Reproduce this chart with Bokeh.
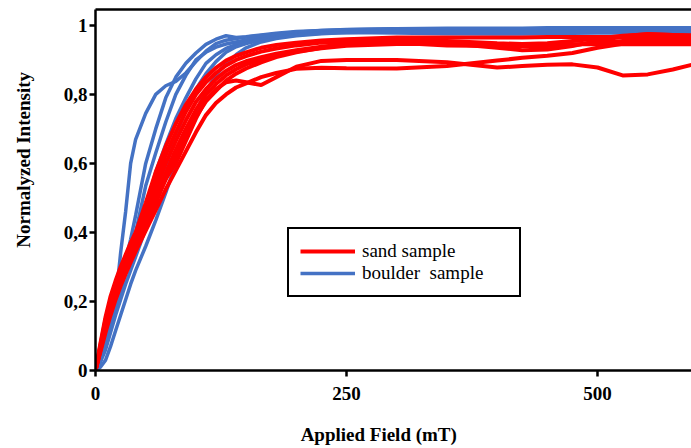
from bokeh.plotting import figure
from bokeh.models import (Range1d, LinearAxis, FixedTicker, Legend, LegendItem, Label)
from bokeh.embed import file_html
from bokeh.resources import INLINE

# ---- data ----
field = [0, 5, 10, 15, 20, 25, 30, 35, 40, 50, 60, 70, 80, 90, 100, 110, 120, 130, 140, 150,
         165, 180, 200, 225, 250, 300, 350, 400, 425, 450, 475, 500, 525, 550, 575, 600]

boulder_1 = [0, 0.03, 0.08, 0.14, 0.20, 0.34, 0.46, 0.60, 0.67, 0.745, 0.80, 0.825, 0.838, 0.862, 0.895, 0.925,
             0.947, 0.957, 0.962, 0.966, 0.971, 0.975, 0.98, 0.985, 0.988, 0.99, 0.99, 0.99, 0.99, 0.99,
             0.99, 0.99, 0.99, 0.99, 0.99, 0.99]
boulder_2 = [0, 0.03, 0.08, 0.14, 0.20, 0.26, 0.32, 0.38, 0.45, 0.60, 0.70, 0.79, 0.85, 0.89, 0.92, 0.945,
             0.96, 0.97, 0.965, 0.967, 0.972, 0.977, 0.982, 0.985, 0.987, 0.99, 0.992, 0.992, 0.992, 0.993,
             0.993, 0.993, 0.993, 0.993, 0.993, 0.993]
boulder_3 = [0, 0.03, 0.07, 0.13, 0.19, 0.245, 0.30, 0.35, 0.40, 0.535, 0.63, 0.72, 0.80, 0.855, 0.90, 0.922,
             0.937, 0.946, 0.952, 0.958, 0.966, 0.972, 0.978, 0.983, 0.986, 0.988, 0.988, 0.988, 0.987, 0.987,
             0.988, 0.988, 0.988, 0.988, 0.988, 0.988]
boulder_4 = [0, 0.03, 0.07, 0.12, 0.175, 0.23, 0.28, 0.33, 0.375, 0.47, 0.575, 0.655, 0.73, 0.79, 0.845, 0.89,
             0.915, 0.933, 0.944, 0.951, 0.96, 0.967, 0.974, 0.979, 0.982, 0.985, 0.983, 0.982, 0.982, 0.982,
             0.983, 0.984, 0.984, 0.984, 0.984, 0.984]
boulder_5 = [0, 0.025, 0.06, 0.11, 0.16, 0.205, 0.25, 0.29, 0.33, 0.41, 0.50, 0.59, 0.68, 0.755, 0.815, 0.86,
             0.895, 0.922, 0.938, 0.947, 0.958, 0.965, 0.972, 0.977, 0.979, 0.978, 0.976, 0.975, 0.975, 0.976,
             0.977, 0.978, 0.978, 0.978, 0.978, 0.978]
boulder_6 = [0, 0.01, 0.03, 0.07, 0.115, 0.16, 0.205, 0.25, 0.29, 0.36, 0.435, 0.515, 0.60, 0.68, 0.75, 0.81,
             0.855, 0.89, 0.915, 0.935, 0.952, 0.962, 0.97, 0.976, 0.979, 0.982, 0.982, 0.982, 0.983, 0.983,
             0.983, 0.983, 0.983, 0.983, 0.983, 0.983]

sand_1 = [0, 0.08, 0.155, 0.215, 0.26, 0.30, 0.335, 0.37, 0.40, 0.485, 0.575, 0.65, 0.715, 0.77, 0.815, 0.85,
          0.877, 0.898, 0.912, 0.922, 0.935, 0.943, 0.95, 0.956, 0.96, 0.965, 0.965, 0.965, 0.965, 0.966,
          0.966, 0.966, 0.966, 0.966, 0.966, 0.966]
sand_2 = [0, 0.075, 0.148, 0.205, 0.25, 0.29, 0.325, 0.355, 0.385, 0.465, 0.55, 0.625, 0.69, 0.75, 0.80, 0.835,
          0.862, 0.884, 0.90, 0.911, 0.924, 0.933, 0.942, 0.95, 0.953, 0.956, 0.948, 0.935, 0.928, 0.93,
          0.94, 0.955, 0.968, 0.975, 0.972, 0.97]
sand_3 = [0, 0.07, 0.14, 0.195, 0.24, 0.278, 0.312, 0.344, 0.375, 0.445, 0.525, 0.60, 0.665, 0.725, 0.778, 0.815,
          0.845, 0.868, 0.885, 0.896, 0.908, 0.918, 0.928, 0.938, 0.945, 0.95, 0.942, 0.94, 0.94, 0.94,
          0.943, 0.95, 0.955, 0.956, 0.956, 0.956]
sand_4 = [0, 0.066, 0.13, 0.185, 0.228, 0.265, 0.298, 0.33, 0.36, 0.42, 0.50, 0.572, 0.64, 0.70, 0.755, 0.80,
          0.83, 0.855, 0.873, 0.887, 0.90, 0.912, 0.924, 0.934, 0.941, 0.946, 0.946, 0.945, 0.945, 0.945,
          0.945, 0.945, 0.945, 0.945, 0.945, 0.945]
sand_5 = [0, 0.062, 0.125, 0.178, 0.22, 0.256, 0.29, 0.322, 0.35, 0.41, 0.485, 0.555, 0.62, 0.68, 0.735, 0.78,
          0.81, 0.84, 0.86, 0.875, 0.893, 0.908, 0.922, 0.935, 0.948, 0.958, 0.955, 0.948, 0.946, 0.948,
          0.955, 0.962, 0.97, 0.974, 0.972, 0.97]
sand_6 = [0, 0.06, 0.12, 0.175, 0.22, 0.258, 0.293, 0.328, 0.36, 0.43, 0.50, 0.555, 0.60, 0.665, 0.73, 0.785,
          0.815, 0.835, 0.84, 0.835, 0.827, 0.85, 0.88, 0.897, 0.90, 0.90, 0.893, 0.878, 0.882, 0.886,
          0.887, 0.878, 0.855, 0.858, 0.872, 0.89]
sand_7 = [0, 0.055, 0.11, 0.16, 0.205, 0.245, 0.28, 0.313, 0.345, 0.405, 0.465, 0.525, 0.58, 0.635, 0.69, 0.74,
          0.775, 0.80, 0.82, 0.832, 0.85, 0.862, 0.874, 0.877, 0.876, 0.875, 0.882, 0.898, 0.906, 0.912,
          0.92, 0.935, 0.947, 0.952, 0.952, 0.952]

boulder_series = [boulder_1, boulder_2, boulder_3, boulder_4, boulder_5, boulder_6]
sand_series = [sand_1, sand_2, sand_3, sand_4, sand_5, sand_6, sand_7]

y_ticks = [0, 0.2, 0.4, 0.6, 0.8, 1.0]
y_tick_labels = ["0", "0,2", "0,4", "0,6", "0,8", "1"]
x_ticks = [0, 250, 500]
x_tick_labels = ["0", "250", "500"]

SERIF = "Liberation Serif"
RED = "#FF0000"
BLUE = "#4472C4"

p = figure(width=691, height=448, output_backend="svg", toolbar_location=None,
           x_range=Range1d(0, 593.6), y_range=Range1d(0, 1.046),
           x_axis_type=None, y_axis_type=None,
           min_border_left=95, min_border_right=0, min_border_top=9, min_border_bottom=78)
p.grid.visible = False
p.outline_line_color = None
p.background_fill_color = "white"
p.border_fill_color = "white"

blue_renderers = [p.line(field, s, line_color=BLUE, line_width=3.5) for s in boulder_series]
red_renderers = [p.line(field, s, line_color=RED, line_width=4) for s in sand_series]

# axes
yax = LinearAxis(ticker=FixedTicker(ticks=y_ticks),
                 major_label_overrides={t: l for t, l in zip(y_ticks, y_tick_labels)})
xax = LinearAxis(ticker=FixedTicker(ticks=x_ticks),
                 major_label_overrides={t: l for t, l in zip(x_ticks, x_tick_labels)})
for ax in (yax, xax):
    ax.axis_line_color = "black"
    ax.axis_line_width = 2.5
    ax.major_tick_line_color = "black"
    ax.major_tick_line_width = 2.5
    ax.major_tick_out = 6
    ax.major_tick_in = 0
    ax.minor_tick_line_color = None
    ax.major_label_text_font = SERIF
    ax.major_label_text_font_style = "bold"
    ax.major_label_text_font_size = "19px"
    ax.major_label_text_color = "black"
yax.major_label_standoff = 2
xax.major_label_standoff = 10
p.add_layout(yax, "left")
p.add_layout(xax, "below")

top = LinearAxis(ticker=FixedTicker(ticks=[]), axis_line_color="black", axis_line_width=2.5,
                 major_tick_line_color=None, minor_tick_line_color=None,
                 major_label_text_font_size="0px", major_label_standoff=0)
p.add_layout(top, "above")

# axis titles (placed in the side panels, screen units relative to the panel)
p.add_layout(Label(x=-16, y=213, x_units="screen", y_units="screen", angle=1.5708,
                   text="Normalyzed  Intensity", text_font=SERIF, text_font_style="bold",
                   text_font_size="19px", text_align="center", text_baseline="middle",
                   text_color="black"), "left")
p.add_layout(Label(x=288, y=-11, x_units="screen", y_units="screen",
                   text="Applied  Field  (mT)", text_font=SERIF, text_font_style="bold",
                   text_font_size="19px", text_align="center", text_baseline="middle",
                   text_color="black"), "below")

legend = Legend(items=[LegendItem(label="sand sample", renderers=[red_renderers[0]]),
                       LegendItem(label="boulder  sample", renderers=[blue_renderers[0]])],
                location=(192, 73), orientation="vertical",
                border_line_color="black", border_line_width=2, border_line_alpha=1,
                background_fill_color="white", background_fill_alpha=1,
                padding=11, spacing=0, margin=0,
                glyph_width=55, glyph_height=20, label_width=146, label_height=20,
                label_standoff=7, label_text_font=SERIF, label_text_font_size="19px",
                label_text_color="black")
p.add_layout(legend, "center")

open("out.html", "w").write(file_html(p, INLINE))
